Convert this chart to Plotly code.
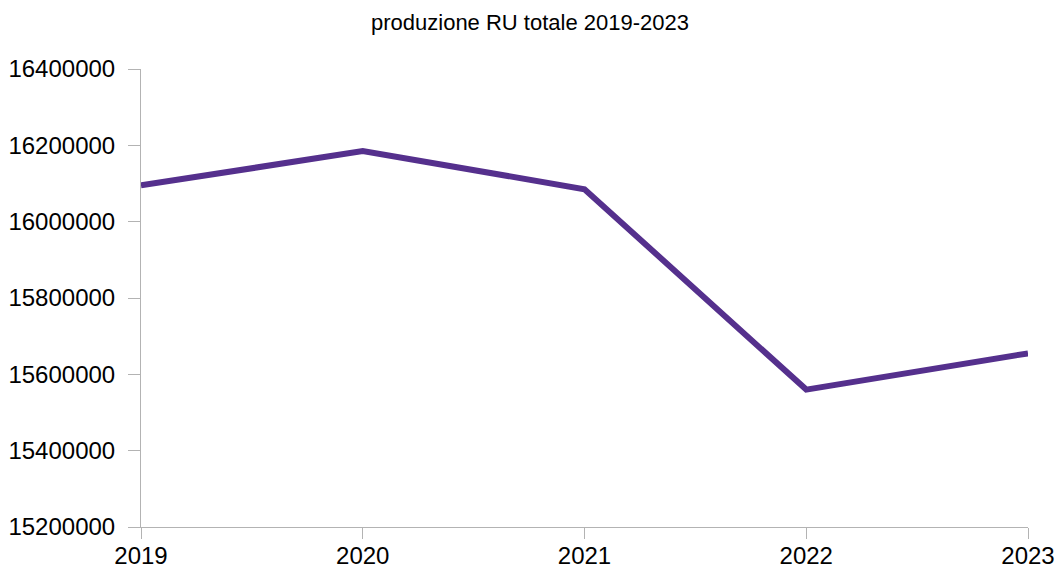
import plotly.graph_objects as go

years = ["2019", "2020", "2021", "2022", "2023"]
values = [16095000, 16185000, 16085000, 15560000, 15655000]
y_ticks = [15200000, 15400000, 15600000, 15800000, 16000000, 16200000, 16400000]
title_text = "produzione RU totale 2019-2023"

fig = go.Figure()
fig.add_trace(go.Scatter(
    x=list(range(len(years))), y=values, mode="lines",
    line=dict(color="#55308D", width=6),
    hoverinfo="skip", showlegend=False,
))

axis_color = "#b3b3b3"
font_family = "Liberation Sans"
fig.update_layout(
    width=1058, height=573,
    margin=dict(l=141, r=30, t=69, b=46, pad=0),
    paper_bgcolor="white", plot_bgcolor="white",
    font=dict(family=font_family, color="black"),
    title=dict(text=title_text, x=530 / 1058, xanchor="center", y=1 - 22 / 573, yanchor="middle",
               font=dict(size=22, family=font_family, color="black")),
    xaxis=dict(
        range=[0, len(years) - 1], tickmode="array",
        tickvals=list(range(len(years))), ticktext=years,
        showgrid=False, zeroline=False, showline=True, linecolor=axis_color, linewidth=1,
        ticks="outside", ticklen=11, tickcolor=axis_color, tickwidth=1,
        tickfont=dict(size=24, family=font_family, color="black"),
        ticklabelstandoff=-4, automargin=False,
    ),
    yaxis=dict(
        range=[15200000, 16400000], tickmode="array",
        tickvals=y_ticks, ticktext=[str(v) for v in y_ticks],
        showgrid=False, zeroline=False, showline=True, linecolor=axis_color, linewidth=1,
        ticks="outside", ticklen=12, tickcolor=axis_color, tickwidth=1,
        tickfont=dict(size=24, family=font_family, color="black"),
        ticklabelstandoff=8, automargin=False,
    ),
)

fig.write_html(
    "out.html",
    config={"displayModeBar": False, "staticPlot": True},
    post_script="document.body.style.margin='0';document.body.style.overflow='hidden';",
)
